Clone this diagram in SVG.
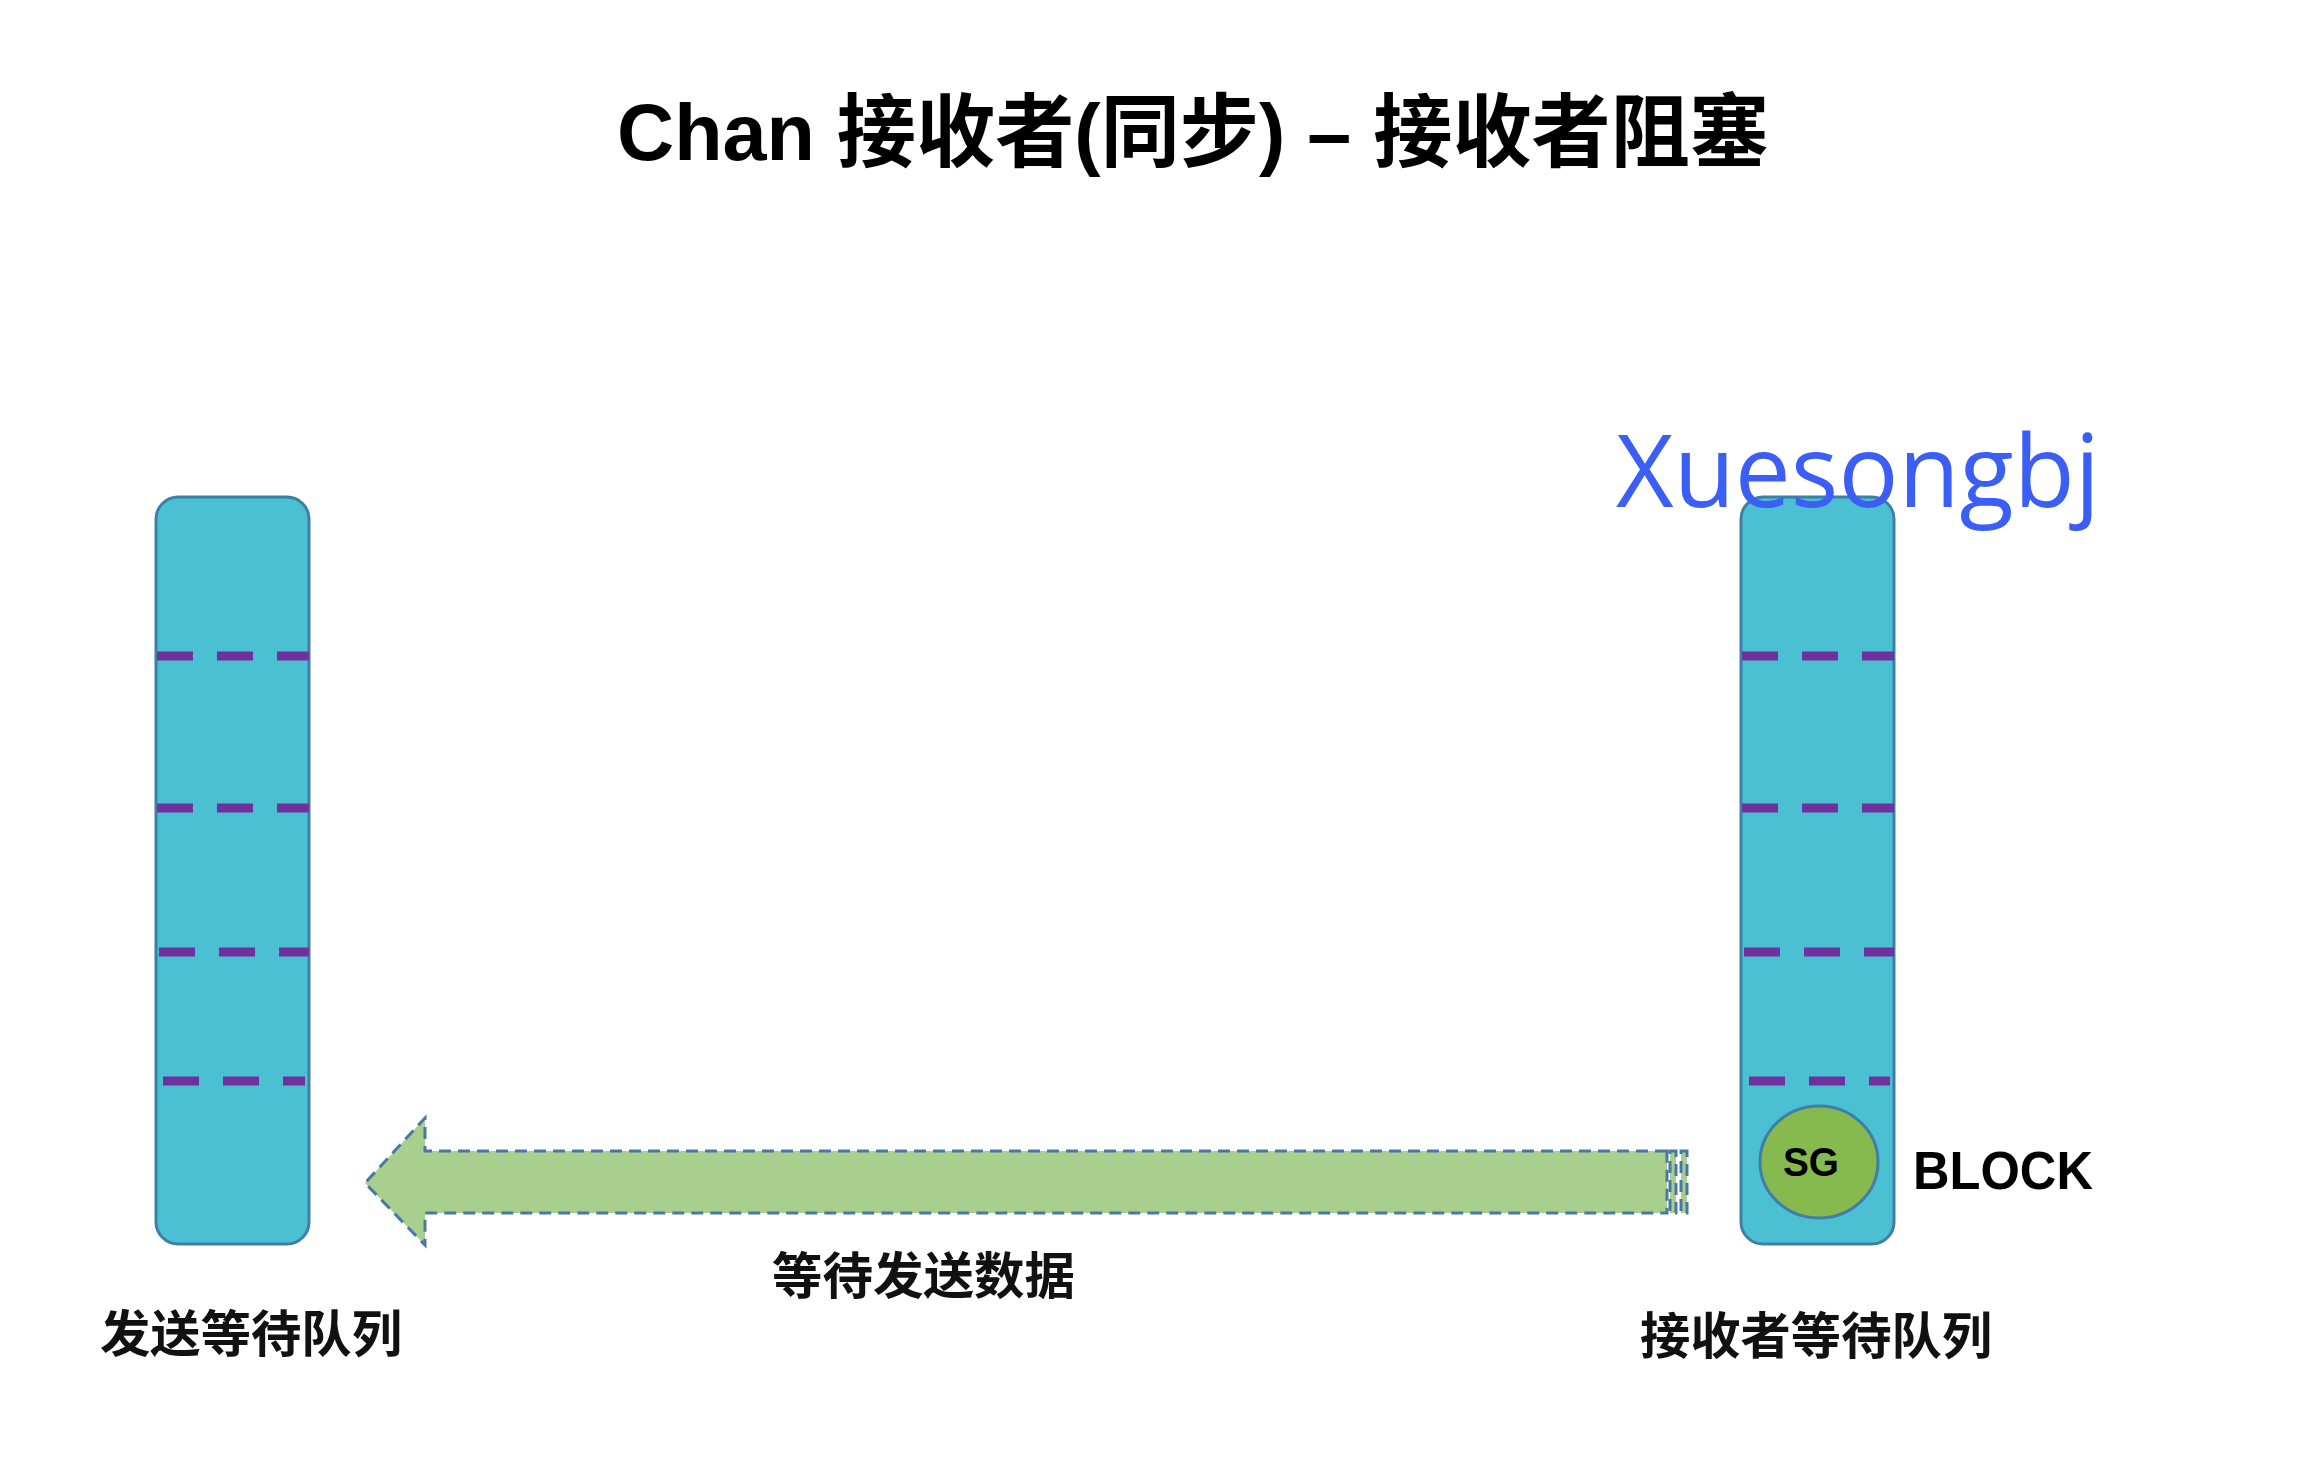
<svg xmlns="http://www.w3.org/2000/svg" width="2316" height="1466" viewBox="0 0 2316 1466">
<defs>
<style>
.bar{fill:#4ac0d2;stroke:#3f7fa6;stroke-width:3}
.sep{stroke:#7030a0;stroke-width:9;stroke-dasharray:36 24;fill:none}
.lbl{font-family:"Liberation Sans","Noto Sans CJK SC",sans-serif;font-weight:bold;font-size:50px;fill:#111}
.arr{fill:#a8cf8d;stroke:#4a78a6;stroke-width:3;stroke-dasharray:12 7}
</style>
</defs>
<rect width="2316" height="1466" fill="#ffffff"/>
<text x="617" y="160" textLength="1152" lengthAdjust="spacingAndGlyphs" font-family="'Liberation Sans','Noto Sans CJK SC',sans-serif" font-weight="bold" font-size="80" fill="#000">Chan 接收者(同步) – 接收者阻塞</text>
<g id="sender-queue">
<rect class="bar" x="156" y="497" width="153" height="747" rx="22"/>
<line class="sep" x1="157" y1="656" x2="309" y2="656"/>
<line class="sep" x1="157" y1="808" x2="309" y2="808"/>
<line class="sep" x1="159" y1="952" x2="309" y2="952"/>
<line class="sep" x1="163" y1="1081" x2="305" y2="1081"/>
</g>
<g id="receiver-queue">
<rect class="bar" x="1741" y="497" width="153" height="747" rx="22"/>
<line class="sep" x1="1742" y1="656" x2="1894" y2="656"/>
<line class="sep" x1="1742" y1="808" x2="1894" y2="808"/>
<line class="sep" x1="1744" y1="952" x2="1894" y2="952"/>
<line class="sep" x1="1749" y1="1081" x2="1890" y2="1081"/>
</g>
<g id="sg">
<ellipse cx="1819" cy="1162" rx="59" ry="56" fill="#86ba4e" stroke="#3f7fa6" stroke-width="3"/>
<text x="1811" y="1176" text-anchor="middle" textLength="56" lengthAdjust="spacingAndGlyphs" font-family="'Liberation Sans',sans-serif" font-weight="bold" font-size="40" fill="#000">SG</text>
</g>
<g id="block-label">
<text x="1913" y="1189" textLength="180" lengthAdjust="spacingAndGlyphs" font-family="'Liberation Sans',sans-serif" font-weight="bold" font-size="53" fill="#000">BLOCK</text>
</g>
<g id="watermark">
<text x="1616" y="507" textLength="484" lengthAdjust="spacingAndGlyphs" font-family="'Open Sans','Noto Sans',sans-serif" font-size="100" fill="#3b5ff4">Xuesongbj</text>
</g>
<g id="connectors">
<path class="arr" d="M1667 1151 L425 1151 L425 1118 L365 1183 L425 1245 L425 1213 L1667 1213 Z"/>
<rect class="arr" x="1670" y="1151" width="6" height="62" stroke-dasharray="8 5"/>
<rect class="arr" x="1681" y="1151" width="6" height="62" stroke-dasharray="8 5"/>
</g>
<text class="lbl" x="772" y="1294" textLength="303" lengthAdjust="spacingAndGlyphs">等待发送数据</text>
<text class="lbl" x="100" y="1352" textLength="302" lengthAdjust="spacingAndGlyphs">发送等待队列</text>
<text class="lbl" x="1640" y="1354" textLength="352" lengthAdjust="spacingAndGlyphs">接收者等待队列</text>
</svg>
